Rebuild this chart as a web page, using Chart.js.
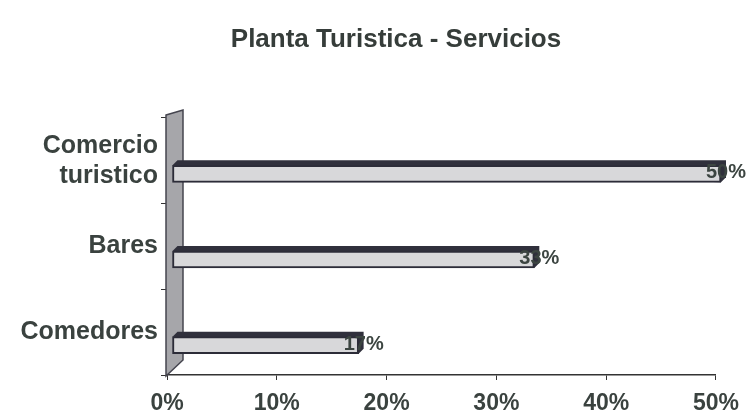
<!DOCTYPE html>
<html>
<head>
<meta charset="utf-8">
<script src="https://cdn.jsdelivr.net/npm/chart.js@4"></script>
<style>
  html, body { margin: 0; padding: 0; background: #fff; }
  #wrap { width: 749px; height: 416px; }
</style>
</head>
<body>
<div id="wrap"><canvas id="chart"></canvas></div>
<script>
const chartTitle = 'Planta Turistica - Servicios';
const categories = [['Comercio', 'turistico'], 'Bares', 'Comedores'];
const shares = [50, 33, 17];
const tickValues = [0, 10, 20, 30, 40, 50];

const depth = 5;
// 3D projection: bars sit a bit right of / below their labels
const shiftX = 5;
const drop = 13;

const wallAndDepth = {
  id: 'wallAndDepth',
  beforeDatasetsDraw(chart) {
    const { ctx, chartArea: a } = chart;
    ctx.save();
    // side wall
    ctx.beginPath();
    ctx.moveTo(a.left - 1, a.top - 3);
    ctx.lineTo(a.left + 16, a.top - 8);
    ctx.lineTo(a.left + 16, a.bottom - 15);
    ctx.lineTo(a.left - 1, a.bottom + 1);
    ctx.closePath();
    ctx.fillStyle = '#a6a6aa';
    ctx.fill();
    ctx.strokeStyle = '#45454f';
    ctx.lineWidth = 1.5;
    ctx.stroke();
    ctx.restore();

    ctx.save();
    ctx.translate(shiftX, drop);
    const meta = chart.getDatasetMeta(0);
    meta.data.forEach(bar => {
      const h = bar.height, top = bar.y - h / 2, bot = bar.y + h / 2;
      ctx.beginPath();
      ctx.moveTo(bar.base, top);
      ctx.lineTo(bar.base + depth, top - depth);
      ctx.lineTo(bar.x + depth, top - depth);
      ctx.lineTo(bar.x + depth, bot - depth);
      ctx.lineTo(bar.x, bot);
      ctx.closePath();
      ctx.fillStyle = '#30303c';
      ctx.fill();
    });
    // stays translated while the bars are drawn, restored below
  },
  afterDatasetsDraw(chart) {
    const { ctx } = chart;
    ctx.restore();
    const meta = chart.getDatasetMeta(0);
    ctx.save();
    ctx.font = 'bold 20px "Liberation Sans", Arial, sans-serif';
    ctx.textBaseline = 'middle';
    ctx.textAlign = 'left';
    meta.data.forEach((bar, i) => {
      ctx.fillStyle = '#3c4541';
      ctx.fillText(shares[i] + '%', bar.x + shiftX - 15, bar.y + drop - 1);
    });
    ctx.restore();
  },
  afterDraw(chart) {
    // title sits left of the plot centre, as in the original
    const { ctx } = chart;
    ctx.save();
    ctx.font = 'bold 26px "Liberation Sans", Arial, sans-serif';
    ctx.fillStyle = '#363d3a';
    ctx.textAlign = 'center';
    ctx.textBaseline = 'middle';
    ctx.fillText(chartTitle, 396, 40);
    ctx.restore();
  }
};

new Chart(document.getElementById('chart'), {
  type: 'bar',
  data: {
    labels: categories,
    datasets: [{
      data: shares,
      backgroundColor: '#d8d8da',
      borderColor: '#2c2c38',
      borderWidth: 2,
      borderSkipped: false,
      barThickness: 17
    }]
  },
  plugins: [wallAndDepth],
  options: {
    indexAxis: 'y',
    responsive: true,
    maintainAspectRatio: false,
    animation: false,
    layout: { padding: { left: 0, right: 32, top: 118, bottom: 0 } },
    plugins: {
      legend: { display: false },
      tooltip: { enabled: false },
      title: { display: false }
    },
    scales: {
      x: {
        min: 0,
        max: 50,
        afterBuildTicks: scale => { scale.ticks = tickValues.map(v => ({ value: v })); },
        afterFit: scale => { scale.height = 41; },
        ticks: {
          callback: v => v + '%',
          color: '#3a423f',
          padding: 10,
          maxRotation: 0,
          font: { family: '"Liberation Sans", Arial, sans-serif', size: 23, weight: 'bold' }
        },
        grid: { drawOnChartArea: false, drawTicks: true, tickLength: 5, color: '#333' },
        border: { display: true, color: '#333', width: 1.5 }
      },
      y: {
        afterFit: scale => { scale.width = 167; },
        ticks: {
          color: '#3a423f',
          padding: 3,
          font: { family: '"Liberation Sans", Arial, sans-serif', size: 25, weight: 'bold', lineHeight: 1.2 }
        },
        grid: { drawOnChartArea: false, drawTicks: true, tickLength: 6, color: '#333', offset: true },
        border: { display: true, color: '#333', width: 1.5 }
      }
    }
  }
});
</script>
</body>
</html>
